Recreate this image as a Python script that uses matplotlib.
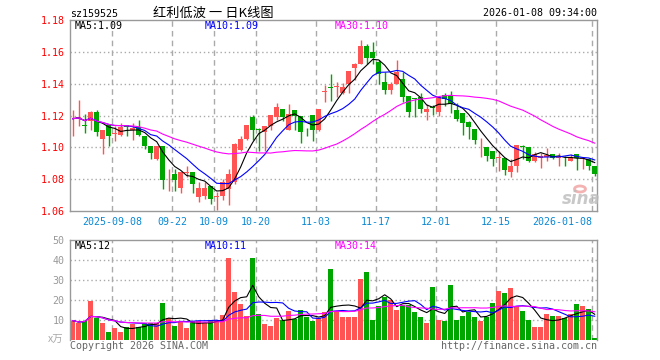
import matplotlib
matplotlib.use('Agg')
import matplotlib.pyplot as plt
import matplotlib.transforms as mtransforms
import numpy as np
import pandas as pd

# daily candles, oldest first (last one is 2026-01-08)
opens = [1.1175, 1.1182, 1.1142, 1.1163, 1.1225, 1.1055, 1.1142, 1.1082, 1.1080, 1.1138,
         1.1111, 1.1128, 1.1074, 1.1008, 1.0925, 1.1008, 1.0830, 1.0832, 1.0747, 1.0840,
         1.0842, 1.0685, 1.0697, 1.0755, 1.0687, 1.0697, 1.0739, 1.0780, 1.0983, 1.1055,
         1.1190, 1.1115, 1.1095, 1.1132, 1.1190, 1.1242, 1.1111, 1.1232, 1.1194, 1.1093,
         1.1204, 1.1111, 1.1350, 1.1378, 1.1382, 1.1339, 1.1395, 1.1500, 1.1525, 1.1639,
         1.1599, 1.1536, 1.1411, 1.1360, 1.1397, 1.1432, 1.1320, 1.1308, 1.1318, 1.1225,
         1.1254, 1.1225, 1.1327, 1.1327, 1.1235, 1.1214, 1.1160, 1.1114, 1.1001, 1.1005,
         1.0974, 1.0934, 1.0932, 1.0846, 1.0884, 1.1007, 1.1005, 1.0915, 1.0932, 1.0942,
         1.0957, 1.0930, 1.0917, 1.0915, 1.0957, 1.0928, 1.0926, 1.0880]
highs = [1.1236, 1.1298, 1.1210, 1.1230, 1.1236, 1.1111, 1.1142, 1.1132, 1.1153, 1.1142,
         1.1153, 1.1173, 1.1074, 1.1008, 1.1008, 1.1008, 1.0863, 1.0863, 1.0842, 1.0884,
         1.0842, 1.0780, 1.0780, 1.0755, 1.0718, 1.0801, 1.0863, 1.1028, 1.1074, 1.1142,
         1.1204, 1.1122, 1.1132, 1.1204, 1.1281, 1.1242, 1.1273, 1.1232, 1.1194, 1.1122,
         1.1204, 1.1242, 1.1391, 1.1463, 1.1411, 1.1405, 1.1478, 1.1527, 1.1674, 1.1649,
         1.1660, 1.1546, 1.1474, 1.1411, 1.1546, 1.1474, 1.1320, 1.1312, 1.1339, 1.1273,
         1.1267, 1.1322, 1.1344, 1.1354, 1.1281, 1.1214, 1.1166, 1.1114, 1.1061, 1.1005,
         1.0974, 1.0978, 1.0932, 1.0926, 1.1013, 1.1013, 1.1005, 1.0972, 1.0967, 1.0995,
         1.0961, 1.0967, 1.0946, 1.0961, 1.0957, 1.0936, 1.0930, 1.0884]
lows = [1.1074, 1.1132, 1.1091, 1.1111, 1.1070, 1.0960, 1.1008, 1.1039, 1.1070, 1.1070,
        1.1049, 1.1070, 1.0987, 1.0929, 1.0921, 1.0739, 1.0728, 1.0728, 1.0712, 1.0811,
        1.0712, 1.0656, 1.0677, 1.0646, 1.0604, 1.0666, 1.0635, 1.0770, 1.0977, 1.1049,
        1.1049, 1.0977, 1.0975, 1.1111, 1.1173, 1.1163, 1.1111, 1.1111, 1.1028, 1.1070,
        1.1039, 1.1101, 1.1287, 1.1293, 1.1318, 1.1333, 1.1339, 1.1424, 1.1525, 1.1525,
        1.1525, 1.1397, 1.1335, 1.1335, 1.1397, 1.1287, 1.1190, 1.1190, 1.1215, 1.1169,
        1.1204, 1.1198, 1.1260, 1.1218, 1.1166, 1.1076, 1.1051, 1.1020, 1.0942, 1.0915,
        1.0880, 1.0852, 1.0825, 1.0811, 1.0842, 1.0926, 1.0905, 1.0905, 1.0873, 1.0915,
        1.0926, 1.0880, 1.0880, 1.0913, 1.0859, 1.0863, 1.0859, 1.0821]
closes = [1.1180, 1.1190, 1.1134, 1.1225, 1.1095, 1.1111, 1.1074, 1.1091, 1.1128, 1.1128,
          1.1120, 1.1080, 1.1008, 1.0962, 1.1008, 1.0797, 1.0834, 1.0797, 1.0842, 1.0844,
          1.0768, 1.0743, 1.0743, 1.0677, 1.0697, 1.0780, 1.0832, 1.1024, 1.1053, 1.1138,
          1.1107, 1.1107, 1.1132, 1.1204, 1.1252, 1.1190, 1.1211, 1.1194, 1.1095, 1.1089,
          1.1111, 1.1242, 1.1355, 1.1374, 1.1386, 1.1376, 1.1478, 1.1525, 1.1639, 1.1560,
          1.1560, 1.1463, 1.1360, 1.1397, 1.1474, 1.1318, 1.1225, 1.1302, 1.1242, 1.1242,
          1.1250, 1.1318, 1.1302, 1.1270, 1.1181, 1.1155, 1.1128, 1.1047, 1.1005, 1.0946,
          1.0926, 1.0942, 1.0859, 1.0880, 1.1013, 1.1003, 1.0915, 1.0957, 1.0946, 1.0953,
          1.0932, 1.0942, 1.0913, 1.0942, 1.0930, 1.0932, 1.0884, 1.0832]
# volume, in 10k lots
volumes = [9.7, 8.3, 9.7, 19.5, 11.0, 8.3, 4.0, 6.2, 4.0, 6.7,
           7.9, 6.7, 8.4, 8.4, 8.4, 18.6, 10.9, 7.1, 9.7, 6.2,
           9.3, 9.3, 8.4, 9.3, 10.2, 12.6, 41.2, 24.2, 17.8, 12.2,
           41.2, 12.8, 7.9, 7.1, 10.9, 10.0, 14.5, 10.5, 14.8, 11.4,
           9.7, 10.9, 14.0, 35.7, 14.3, 11.7, 11.7, 11.7, 30.3, 34.2,
           10.0, 16.9, 21.7, 20.0, 14.8, 17.4, 17.4, 14.0, 11.4, 8.3,
           26.7, 10.2, 9.7, 27.7, 10.2, 12.2, 14.0, 11.4, 9.7, 11.7,
           18.6, 24.7, 23.7, 26.2, 17.1, 14.5, 10.2, 6.6, 6.6, 12.8,
           12.2, 11.9, 11.0, 12.8, 17.9, 16.9, 15.7, 1.0]
# x-axis date labels and the candle each one sits on
date_labels = ['2025-09-08', '09-22', '10-09', '10-20', '11-03', '11-17', '12-01', '12-15', '2026-01-08']
date_idx = [7, 17, 24, 31, 41, 51, 61, 71, 87]

price_ticks = [1.06, 1.08, 1.10, 1.12, 1.14, 1.16, 1.18]
vol_ticks = [10, 20, 30, 40, 50]

RED = '#ff5454'
GREEN = '#00a600'
GRID = '#aaaaaa'
MONO = 'DejaVu Sans Mono'
CJK = ['Noto Sans CJK SC', 'DejaVu Sans']
FS = 7.2

W, H = 660, 360
fig = plt.figure(figsize=(W / 100, H / 100), dpi=100)


def box(l, t, r, b):
    return [l / W, 1 - b / H, (r - l) / W, (b - t) / H]


def ftext(px, py, s, **kw):
    kw.setdefault('family', MONO)
    kw.setdefault('fontsize', FS)
    fig.text(px / W, 1 - py / H, s, **kw)


ax = fig.add_axes(box(70, 20, 597, 211))
axv = fig.add_axes(box(70, 240, 597, 340))

o = np.array(opens)
h = np.array(highs)
l = np.array(lows)
c = np.array(closes)
v = np.array(volumes)
x = np.arange(len(c))
cols = np.where(c >= o, RED, GREEN)

xlim = (-0.45, 87.38)

for a in (ax, axv):
    a.set_xlim(*xlim)
    a.set_xticks([])
    for s in a.spines.values():
        s.set_color('#999999')
        s.set_linewidth(1)
    a.tick_params(axis='y', length=0, pad=4)
    for i in date_idx:
        a.axvline(i - 0.42, color=GRID, lw=1, ls=(0, (4, 3)), zorder=0)
axv.spines['bottom'].set_visible(False)

# price panel
ax.set_ylim(1.06, 1.18)
ax.set_yticks(price_ticks)
ax.set_yticklabels(['%.2f' % t for t in price_ticks], color='#ff0000', family=MONO, fontsize=FS)
for t in price_ticks[1:-1]:
    ax.axhline(t, color=GRID, lw=1, ls=(0, (1, 2)), zorder=0)

ax.vlines(x, l, h, colors=cols, lw=1, zorder=2)
ax.bar(x, np.maximum(np.abs(c - o), 0.0004), bottom=np.minimum(o, c),
       width=0.82, color=cols, lw=0, zorder=3)

cs = pd.Series(c)
ax.plot(x, cs.rolling(5, min_periods=1).mean(), color='black', lw=0.8, zorder=4)
ax.plot(x, cs.rolling(10, min_periods=1).mean(), color='#0000ff', lw=0.8, zorder=4)
ax.plot(x, cs.rolling(30, min_periods=1).mean(), color='#ff00ff', lw=0.8, zorder=4)

trans = mtransforms.blended_transform_factory(ax.transData, ax.transAxes)
for i, lab in zip(date_idx, date_labels):
    ha = 'right' if i == date_idx[-1] else 'center'
    ax.text(i - 0.42, -0.055, lab, transform=trans, ha=ha, va='center',
            color='#0a88d2', family=MONO, fontsize=FS)

# volume panel
axv.set_ylim(0, 50)
axv.set_yticks(vol_ticks)
axv.set_yticklabels([str(t) for t in vol_ticks], color='#999999', family=MONO, fontsize=FS)
for t in vol_ticks[:-1]:
    axv.axhline(t, color=GRID, lw=1, ls=(0, (1, 2)), zorder=0)
axv.bar(x, v, width=0.82, color=cols, lw=0, zorder=2)
vs = pd.Series(v)
axv.plot(x, vs.rolling(5, min_periods=1).mean(), color='black', lw=0.8, zorder=4)
axv.plot(x, vs.rolling(10, min_periods=1).mean(), color='#0000ff', lw=0.8, zorder=4)
axv.plot(x, vs.rolling(30, min_periods=1).mean(), color='#ff00ff', lw=0.8, zorder=4)

# header and labels
ftext(70, 14, 'sz159525', ha='left', va='center', color='black')
ftext(213, 13, '红利低波 一 日K线图', ha='center', va='center', color='black',
      family=CJK, fontsize=9.5)
ftext(597, 13, '2026-01-08 09:34:00', ha='right', va='center', color='black')

ftext(75, 26, 'MA5:1.09', ha='left', va='center', color='black')
ftext(205, 26, 'MA10:1.09', ha='left', va='center', color='#0000ff')
ftext(335, 26, 'MA30:1.10', ha='left', va='center', color='#ff00ff')

ftext(75, 246, 'MA5:12', ha='left', va='center', color='black')
ftext(205, 246, 'MA10:11', ha='left', va='center', color='#0000ff')
ftext(335, 246, 'MA30:14', ha='left', va='center', color='#ff00ff')

ftext(63, 340, 'x万', ha='right', va='center', color='#aaaaaa', family=CJK, fontsize=7.5)
ftext(70, 346, 'Copyright 2026 SINA.COM', ha='left', va='center', color='#666666')
ftext(597, 346, 'http://finance.sina.com.cn', ha='right', va='center', color='#666666')

# sina watermark (eye logo + word)
fig.patches.append(plt.Circle((580 / W, 1 - 189 / H), 5.5 / W, transform=fig.transFigure,
                              fill=False, ec='#f2a0a0', lw=2, alpha=0.8))
ftext(581, 199, 'sina', ha='center', va='center', color='#bbbbbb',
      family='DejaVu Sans', fontsize=12, fontweight='bold', style='italic', alpha=0.8)

fig.savefig('out.png', dpi=100)
